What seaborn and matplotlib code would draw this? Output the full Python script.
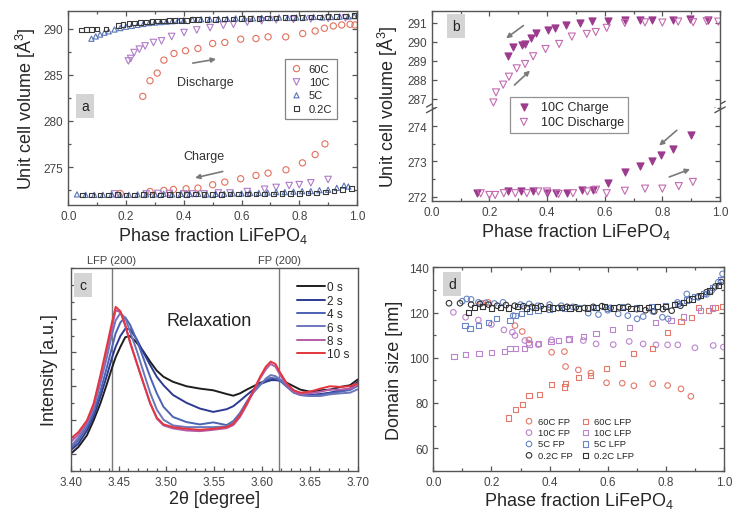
import numpy as np
import pandas as pd
import matplotlib
matplotlib.use("Agg")
import matplotlib.pyplot as plt
import seaborn as sns
from matplotlib.ticker import MultipleLocator, NullFormatter

# ---------------- data: panel a ----------------
a60_dis_x = [0.258,0.283,0.308,0.331,0.366,0.406,0.449,0.500,0.542,0.597,0.650,0.692,0.753,0.812,0.855,0.887,0.918,0.947,0.976,0.993]
a60_dis_y = [282.66,284.35,285.18,286.58,287.3,287.6,287.84,288.38,288.49,288.85,288.92,289.1,289.1,289.46,289.74,290.03,290.28,290.39,290.46,290.39]
a60_chg_x = [0.889,0.855,0.811,0.754,0.692,0.650,0.597,0.542,0.500,0.449,0.408,0.364,0.331,0.283,0.18]
a60_chg_y = [277.51,276.36,275.46,274.71,274.35,274.1,273.74,273.38,273.09,272.73,272.66,272.58,272.48,272.36,272.15]
a10_dis_x = [0.208,0.216,0.228,0.246,0.266,0.295,0.323,0.358,0.401,0.445,0.491,0.537,0.572,0.62,0.67,0.72,0.78,0.84,0.90,0.96]
a10_dis_y = [286.5,286.76,287.4,287.77,288.12,288.49,288.67,289.14,289.57,289.85,290.1,290.36,290.46,290.7,290.85,290.95,291.0,291.05,291.1,291.15]
a10_chg_x = [0.16,0.27,0.31,0.35,0.40,0.43,0.47,0.52,0.56,0.62,0.68,0.72,0.765,0.80,0.84,0.90]
a10_chg_y = [272.1,272.1,272.15,272.15,272.1,272.1,272.1,272.2,272.2,272.35,272.6,272.8,273.0,273.1,273.3,273.66]
a5_dis_x = [0.08,0.095,0.11,0.125,0.14,0.16,0.18,0.20,0.22,0.24,0.26,0.28,0.30,0.32,0.34,0.36,0.38,0.40,0.43,0.46,0.49,0.52,0.55,0.58,0.61,0.64,0.67,0.70,0.73,0.76,0.79,0.82,0.85,0.88,0.91,0.94,0.97,0.99]
a5_dis_y = [288.9,289.15,289.35,289.55,289.7,289.9,290.05,290.2,290.3,290.4,290.5,290.6,290.65,290.7,290.75,290.8,290.85,290.9,290.95,291.0,291.0,291.05,291.05,291.1,291.1,291.1,291.15,291.15,291.2,291.15,291.2,291.2,291.25,291.2,291.25,291.3,291.3,291.35]
a02_dis_x = [0.046,0.064,0.081,0.099,0.131,0.173,0.19,0.21,0.23,0.25,0.27,0.29,0.31,0.33,0.35,0.37,0.39,0.41,0.43,0.45,0.48,0.51,0.54,0.57,0.60,0.63,0.66,0.69,0.72,0.75,0.78,0.81,0.84,0.87,0.90,0.93,0.96,0.99]
a02_dis_y = [289.85,289.9,289.9,289.95,289.95,290.35,290.45,290.55,290.6,290.65,290.7,290.75,290.8,290.8,290.85,290.85,290.9,290.9,290.95,290.95,291.0,291.0,291.05,291.05,291.1,291.1,291.1,291.15,291.15,291.2,291.2,291.2,291.25,291.25,291.3,291.3,291.35,291.4]
a5_chg_x = [0.03,0.06,0.09,0.12,0.15,0.18,0.21,0.24,0.27,0.30,0.33,0.36,0.39,0.42,0.45,0.48,0.51,0.54,0.57,0.60,0.63,0.66,0.69,0.72,0.75,0.78,0.81,0.84,0.87,0.90,0.93,0.955,0.97]
a5_chg_y = [272.05,272.0,272.0,272.0,272.05,272.0,272.0,272.05,272.05,272.05,272.1,272.05,272.1,272.1,272.1,272.05,272.1,272.1,272.15,272.15,272.2,272.2,272.25,272.3,272.3,272.35,272.4,272.4,272.5,272.55,272.75,273.0,272.9]
a02_chg_x = [0.05,0.08,0.11,0.14,0.17,0.20,0.23,0.26,0.29,0.32,0.35,0.38,0.41,0.44,0.47,0.50,0.53,0.56,0.59,0.62,0.65,0.68,0.71,0.74,0.77,0.80,0.83,0.86,0.89,0.92,0.95,0.98]
a02_chg_y = [272.0,272.0,272.0,272.0,272.05,272.0,272.0,272.05,272.05,272.0,272.05,272.05,272.05,272.1,272.05,272.05,272.05,272.1,272.1,272.1,272.1,272.1,272.1,272.15,272.15,272.15,272.2,272.2,272.3,272.4,272.55,272.7]

# ---------------- data: panel b ----------------
b_chg_up_x = [0.266,0.283,0.312,0.324,0.344,0.362,0.402,0.428,0.465,0.514,0.555,0.613,0.670,0.722,0.763,0.838,0.896,0.959]
b_chg_up_y = [289.27,289.75,289.85,289.89,290.2,290.47,290.63,290.72,290.91,291.0,291.09,291.12,291.17,291.17,291.16,291.16,291.19,291.17]
b_dis_up_x = [0.214,0.223,0.248,0.268,0.295,0.324,0.352,0.395,0.442,0.486,0.538,0.569,0.607,0.670,0.740,0.800,0.855,0.907,0.954,0.994]
b_dis_up_y = [286.8,287.33,287.74,288.16,288.6,288.83,289.24,289.62,289.89,290.28,290.42,290.52,290.74,291.0,291.03,291.02,291.07,291.04,291.09,291.07]
b_chg_lo_x = [0.156,0.266,0.31,0.35,0.40,0.43,0.47,0.52,0.56,0.613,0.670,0.722,0.763,0.797,0.838,0.898]
b_chg_lo_y = [272.11,272.15,272.15,272.15,272.1,272.1,272.1,272.2,272.2,272.39,272.7,272.87,273.0,273.17,273.34,273.74]
b_dis_lo_x = [0.17,0.20,0.22,0.25,0.29,0.33,0.37,0.40,0.44,0.49,0.54,0.57,0.607,0.67,0.74,0.80,0.857,0.906]
b_dis_lo_y = [272.1,272.05,272.05,272.1,272.1,272.1,272.15,272.15,272.08,272.1,272.15,272.2,272.1,272.17,272.23,272.23,272.3,272.42]

# ---------------- data: panel c ----------------
c_theta = [3.400,3.408,3.417,3.424,3.431,3.438,3.443,3.447,3.452,3.457,3.462,3.469,3.476,3.483,3.490,3.497,3.507,3.521,3.535,3.549,3.563,3.570,3.577,3.584,3.591,3.598,3.604,3.609,3.614,3.619,3.626,3.633,3.640,3.650,3.661,3.671,3.682,3.692,3.700]
c_labels = ["0 s", "2 s", "4 s", "6 s", "8 s", "10 s"]
c_0s = [0.0,0.20,0.55,0.99,1.49,2.08,2.53,2.86,3.17,3.45,3.49,3.29,3.03,2.73,2.46,2.28,2.13,2.00,1.93,1.88,1.77,1.72,1.79,1.90,2.00,2.10,2.16,2.18,2.20,2.18,2.10,2.00,1.90,1.84,1.88,1.90,1.98,2.03,2.20]
c_2s = [0.10,0.30,0.69,1.11,1.69,2.33,2.83,3.17,3.49,3.70,3.69,3.39,3.00,2.63,2.28,2.03,1.74,1.51,1.34,1.24,1.32,1.41,1.57,1.74,1.90,2.06,2.13,2.18,2.18,2.16,2.03,1.88,1.79,1.74,1.77,1.81,1.88,1.93,2.13]
c_4s = [0.15,0.40,0.79,1.22,1.84,2.58,3.13,3.57,3.89,4.04,3.82,3.37,2.83,2.28,1.79,1.39,1.09,0.94,0.87,0.93,0.85,0.97,1.21,1.54,1.84,2.06,2.18,2.25,2.23,2.16,1.98,1.81,1.74,1.72,1.74,1.79,1.84,1.89,2.01]
c_6s = [0.22,0.48,0.87,1.34,2.08,2.88,3.52,3.95,4.17,4.02,3.62,3.06,2.43,1.81,1.31,1.01,0.84,0.79,0.79,0.79,0.81,0.94,1.19,1.51,1.81,2.03,2.23,2.33,2.30,2.20,2.03,1.84,1.74,1.71,1.71,1.76,1.79,1.81,1.91]
c_8s = [0.35,0.57,0.94,1.44,2.23,3.10,3.72,4.25,4.19,3.79,3.29,2.68,2.08,1.49,1.04,0.84,0.75,0.69,0.67,0.71,0.76,0.85,1.09,1.44,1.84,2.23,2.50,2.66,2.58,2.33,2.03,1.84,1.77,1.79,1.84,1.90,1.90,1.93,2.03]
c_10s = [0.45,0.64,0.99,1.49,2.32,3.22,3.87,4.35,4.22,3.82,3.32,2.70,2.10,1.51,1.07,0.87,0.79,0.74,0.71,0.74,0.79,0.89,1.14,1.49,1.88,2.28,2.58,2.73,2.66,2.40,2.08,1.88,1.81,1.84,1.93,2.00,1.98,2.00,2.08]
c_peaks_x = [3.443, 3.618]
c_peaks_lab = ["LFP (200)", "FP (200)"]

# ---------------- data: panel d ----------------
d60_fp_x = [0.166,0.189,0.281,0.306,0.329,0.407,0.451,0.455,0.499,0.542,0.596,0.650,0.690,0.755,0.806,0.852,0.886]
d60_fp_y = [124.1,124.5,114.2,111.6,107.9,102.4,102.7,96.1,94.6,93.2,88.9,88.7,87.6,88.5,87.7,86.2,82.9]
d60_lfp_x = [0.258,0.283,0.306,0.329,0.365,0.407,0.450,0.455,0.499,0.542,0.596,0.650,0.690,0.753,0.806,0.852,0.889,0.912,0.946,0.969,0.995]
d60_lfp_y = [73.3,77.0,79.2,83.3,83.6,88.0,87.0,88.5,91.4,92.1,95.1,97.6,102.0,103.9,111.3,116.1,117.9,122.3,120.9,122.3,122.8]
d10_fp_x = [0.069,0.111,0.155,0.20,0.243,0.272,0.281,0.315,0.329,0.361,0.407,0.467,0.516,0.560,0.619,0.674,0.722,0.766,0.806,0.841,0.900,0.963,0.998]
d10_fp_y = [120.1,117.9,116.7,114.7,112.3,111.3,109.8,107.6,106.4,105.8,107.9,107.9,107.6,106.1,105.8,107.2,106.1,105.7,105.7,105.7,104.4,105.4,104.7]
d10_lfp_x = [0.071,0.111,0.157,0.201,0.244,0.264,0.283,0.313,0.329,0.361,0.405,0.430,0.467,0.516,0.560,0.617,0.674,0.763,0.818,0.86,0.92,0.96]
d10_lfp_y = [100.7,101.4,102.0,102.4,102.9,103.9,104.2,104.2,106.1,106.4,107.3,107.6,108.3,109.4,110.8,112.6,113.5,115.7,116.4,118.0,121.0,122.0]
d5_fp_x = [0.10,0.115,0.13,0.155,0.18,0.21,0.24,0.275,0.30,0.33,0.36,0.40,0.44,0.48,0.533,0.568,0.60,0.636,0.669,0.701,0.722,0.755,0.788,0.808,0.84,0.872,0.912,0.94,0.958,0.98,0.995]
d5_fp_y = [125.0,126.0,125.8,124.5,124.3,124.0,124.5,118.6,123.5,123.8,123.0,123.5,123.0,122.5,119.7,119.1,121.0,119.4,118.6,117.2,118.2,120.5,117.9,117.2,124.5,128.2,126.7,128.0,129.7,133.4,137.1]
d5_lfp_x = [0.109,0.126,0.155,0.189,0.218,0.264,0.281,0.304,0.33,0.36,0.40,0.45,0.50,0.55,0.60,0.65,0.70,0.75,0.80,0.84,0.87,0.90,0.93,0.96,0.99]
d5_lfp_y = [114.2,113.0,114.2,115.7,117.2,116.4,118.6,119.7,120.3,120.9,121.5,121.8,122.0,122.3,122.0,122.5,122.0,122.8,123.0,124.0,125.5,127.0,128.5,131.0,134.5]
d02_fp_x = [0.054,0.092,0.13,0.16,0.19,0.22,0.25,0.28,0.31,0.34,0.37,0.40,0.43,0.46,0.49,0.52,0.55,0.58,0.61,0.64,0.67,0.70,0.73,0.76,0.79,0.82,0.85,0.88,0.91,0.94,0.97,0.99]
d02_fp_y = [124.1,124.1,123.5,123.8,123.5,123.0,123.3,123.0,122.8,122.5,122.8,122.3,122.0,122.5,122.3,122.0,122.5,122.8,122.0,122.3,122.5,121.5,121.0,120.5,121.5,120.8,123.0,125.5,127.0,129.0,131.5,133.5]
d02_lfp_x = [0.12,0.143,0.17,0.20,0.23,0.26,0.29,0.32,0.35,0.38,0.41,0.44,0.47,0.50,0.53,0.56,0.59,0.62,0.65,0.68,0.71,0.74,0.77,0.80,0.83,0.86,0.89,0.92,0.95,0.98]
d02_lfp_y = [120.0,122.3,122.5,122.0,122.3,122.0,122.8,122.0,122.3,121.8,122.0,122.3,122.0,121.8,122.0,122.3,122.5,122.0,122.3,121.8,122.0,122.3,122.5,122.8,123.5,124.5,126.0,127.5,129.5,132.0]

# ---------------- style ----------------
sns.set_style("ticks")
plt.rcParams["font.family"] = ["Liberation Sans", "DejaVu Sans"]
plt.rcParams["mathtext.default"] = "regular"
plt.rcParams["axes.edgecolor"] = "#555555"
plt.rcParams["axes.linewidth"] = 1.0
plt.rcParams["xtick.color"] = "#555555"
plt.rcParams["ytick.color"] = "#555555"
plt.rcParams["xtick.labelcolor"] = "#444444"
plt.rcParams["ytick.labelcolor"] = "#444444"

C60 = "#e2705c"
C10 = "#b07cc8"
C5 = "#5874b6"
C02 = "#3a3a3a"
GRAY = "#7a7a7a"
LBL = 13
TCK = 8.5

fig = plt.figure(figsize=(7.32, 5.10), dpi=100)
W, H = 732.0, 510.0

def add_ax(l, t, r, b):
    return fig.add_axes([l / W, 1 - b / H, (r - l) / W, (b - t) / H])

def style_ticks(ax, right=True, top=True):
    ax.tick_params(which="both", direction="in", top=top, right=right, labelsize=TCK, width=0.9)
    ax.tick_params(which="major", length=3.5)
    ax.tick_params(which="minor", length=2)

def pts(ax, x, y, marker, color, s=18, filled=False, lw=0.8, label=None):
    sns.scatterplot(x=x, y=y, marker=marker, s=s, color=color,
                    facecolor=color if filled else "none", edgecolor=color,
                    linewidth=lw, ax=ax, label=label, legend=False, zorder=3)

def panel_tag(ax, x, y, t):
    ax.text(x, y, t, transform=ax.transAxes, ha="center", va="center", fontsize=10,
            color="#222222", zorder=6,
            bbox=dict(boxstyle="square,pad=0.38", fc="#d4d4d4", ec="none"))

def arrow(ax, start, end):
    ax.annotate("", xy=end, xytext=start,
                arrowprops=dict(arrowstyle="-|>", color=GRAY, lw=1.2, mutation_scale=7,
                                shrinkA=0, shrinkB=0))

# ---------------- panel a ----------------
ax = add_ax(68.3, 12, 357, 206)
pts(ax, a60_dis_x, a60_dis_y, "o", C60, s=20, label="60C")
pts(ax, a10_dis_x, a10_dis_y, "v", C10, s=22, label="10C")
pts(ax, a5_dis_x, a5_dis_y, "^", C5, s=14, label="5C")
pts(ax, a02_dis_x, a02_dis_y, "s", C02, s=11, label="0.2C")
pts(ax, a60_chg_x, a60_chg_y, "o", C60, s=20)
pts(ax, a10_chg_x, a10_chg_y, "v", C10, s=22)
pts(ax, a5_chg_x, a5_chg_y, "^", C5, s=14)
pts(ax, a02_chg_x, a02_chg_y, "s", C02, s=11)
ax.set_xlim(0, 1)
ax.set_ylim(270.9, 291.9)
ax.xaxis.set_major_locator(MultipleLocator(0.2))
ax.xaxis.set_minor_locator(MultipleLocator(0.1))
ax.yaxis.set_major_locator(MultipleLocator(5))
ax.yaxis.set_minor_locator(MultipleLocator(2.5))
ax.xaxis.set_major_formatter(matplotlib.ticker.FormatStrFormatter("%.1f"))
style_ticks(ax)
ax.set_xlabel("Phase fraction LiFePO$_4$", fontsize=LBL, labelpad=2)
ax.set_ylabel("Unit cell volume [Å$^3$]", fontsize=LBL, labelpad=4)
ax.text(0.473, 284.2, "Discharge", ha="center", va="center", fontsize=9, color="#333333")
ax.text(0.47, 276.25, "Charge", ha="center", va="center", fontsize=9, color="#333333")
arrow(ax, (0.431, 286.26), (0.512, 286.69))
arrow(ax, (0.535, 274.53), (0.439, 273.84))
panel_tag(ax, 0.058, 0.51, "a")
h, l = ax.get_legend_handles_labels()
leg = ax.legend(h[:4], l[:4], loc="upper left", bbox_to_anchor=(0.75, 0.755), fontsize=8,
                frameon=True, fancybox=False, edgecolor="#666666", handletextpad=0.5,
                labelspacing=0.3, borderpad=0.45, handlelength=1.2, borderaxespad=0)
leg.get_frame().set_linewidth(0.9)

# ---------------- panel b (broken axis) ----------------
axl = add_ax(431.7, 108, 720, 202)
axu = add_ax(431.7, 12, 720, 108)
CB_F = "#9c3a8e"
CB_O = "#c46bb0"
pts(axu, b_chg_up_x, b_chg_up_y, "v", CB_F, s=26, filled=True, label="10C Charge")
pts(axu, b_dis_up_x, b_dis_up_y, "v", CB_O, s=26, label="10C Discharge")
pts(axl, b_chg_lo_x, b_chg_lo_y, "v", CB_F, s=26, filled=True)
pts(axl, b_dis_lo_x, b_dis_lo_y, "v", CB_O, s=26)
for a_ in (axu, axl):
    a_.set_xlim(0, 1)
    a_.xaxis.set_major_locator(MultipleLocator(0.2))
    a_.xaxis.set_minor_locator(MultipleLocator(0.1))
    a_.xaxis.set_major_formatter(matplotlib.ticker.FormatStrFormatter("%.1f"))
axu.set_ylim(286.56, 291.63)
axu.yaxis.set_major_locator(MultipleLocator(1))
axl.set_ylim(271.88, 274.54)
axl.yaxis.set_major_locator(MultipleLocator(1))
axl.yaxis.set_minor_locator(MultipleLocator(0.5))
style_ticks(axu)
style_ticks(axl)
axu.tick_params(which="both", bottom=False, labelbottom=False)
axl.tick_params(which="both", top=False)
axu.spines["bottom"].set_visible(False)
axl.spines["top"].set_visible(False)
axl.set_xlabel("Phase fraction LiFePO$_4$", fontsize=LBL, labelpad=2)
fig.text(388 / W, 1 - 107 / H, "Unit cell volume [Å$^3$]", rotation=90, ha="center",
         va="center", fontsize=LBL)
for xx in (0.0, 1.0):
    for off in (-0.03, 0.03):
        axl.plot([xx - 0.018, xx + 0.018], [1.0 + off - 0.03, 1.0 + off + 0.03],
                 transform=axl.transAxes, color="#555555", lw=1.0, clip_on=False, zorder=5)
arrow(axu, (0.318, 290.86), (0.258, 290.19))
arrow(axu, (0.287, 287.72), (0.341, 288.48))
arrow(axl, (0.85, 273.88), (0.789, 273.45))
arrow(axl, (0.824, 272.56), (0.896, 272.78))
panel_tag(axu, 0.084, 0.844, "b")
h, l = axu.get_legend_handles_labels()
legb = axu.legend(h, l, loc="upper left", bbox_to_anchor=(0.272, 0.107), fontsize=9,
                  frameon=True, fancybox=False, edgecolor="#777777", handletextpad=0.6,
                  labelspacing=0.25, borderpad=0.35, handlelength=1.5, borderaxespad=0)
legb.get_frame().set_linewidth(0.9)
legb.set_zorder(10)

# ---------------- panel c ----------------
axc = add_ax(70.7, 269, 357.7, 471.7)
c_series = [c_0s, c_2s, c_4s, c_6s, c_8s, c_10s]
c_colors = ["#1e1e1e", "#2c3a92", "#4c62b2", "#6c76ba", "#b45ca8", "#e3363f"]
for lab, ys, col in zip(c_labels, c_series, c_colors):
    sns.lineplot(x=c_theta, y=ys, color=col, lw=1.4, ax=axc, label=lab, sort=False)
for px, pl in zip(c_peaks_x, c_peaks_lab):
    axc.axvline(px, color=GRAY, lw=1.0, zorder=0)
    axc.text(px, 1.015, pl, transform=axc.get_xaxis_transform(), ha="center", va="bottom",
             fontsize=8, color="#444444")
axc.set_xlim(3.40, 3.70)
axc.set_ylim(-0.5, 5.5)
axc.xaxis.set_major_locator(MultipleLocator(0.05))
axc.xaxis.set_minor_locator(MultipleLocator(0.01))
axc.xaxis.set_major_formatter(matplotlib.ticker.FormatStrFormatter("%.2f"))
axc.yaxis.set_major_locator(MultipleLocator(1))
axc.yaxis.set_minor_locator(MultipleLocator(0.5))
axc.yaxis.set_major_formatter(NullFormatter())
style_ticks(axc, right=False, top=False)
axc.set_xlabel("2θ [degree]", fontsize=LBL, labelpad=2)
axc.set_ylabel("Intensity [a.u.]", fontsize=LBL, labelpad=6)
axc.text(3.545, 3.95, "Relaxation", ha="center", va="center", fontsize=13, color="#222222")
panel_tag(axc, 0.043, 0.916, "c")
legc = axc.legend(loc="upper right", bbox_to_anchor=(1.0, 0.975), fontsize=8.5, frameon=False,
                  handlelength=2.4, handletextpad=0.15, labelspacing=0.12, borderaxespad=0.3)

# ---------------- panel d ----------------
axd = add_ax(433.3, 268.3, 724, 471.7)
D60, D10, D5, D02 = "#e4786a", "#bb85cc", "#6a86c4", "#333333"
pts(axd, d60_fp_x, d60_fp_y, "o", D60, s=16, label="60C FP")
pts(axd, d10_fp_x, d10_fp_y, "o", D10, s=16, label="10C FP")
pts(axd, d5_fp_x, d5_fp_y, "o", D5, s=16, label="5C FP")
pts(axd, d02_fp_x, d02_fp_y, "o", D02, s=16, label="0.2C FP")
pts(axd, d60_lfp_x, d60_lfp_y, "s", D60, s=14, label="60C LFP")
pts(axd, d10_lfp_x, d10_lfp_y, "s", D10, s=14, label="10C LFP")
pts(axd, d5_lfp_x, d5_lfp_y, "s", D5, s=14, label="5C LFP")
pts(axd, d02_lfp_x, d02_lfp_y, "s", D02, s=14, label="0.2C LFP")
axd.set_xlim(0, 1)
axd.set_ylim(50, 140)
axd.xaxis.set_major_locator(MultipleLocator(0.2))
axd.xaxis.set_minor_locator(MultipleLocator(0.1))
axd.xaxis.set_major_formatter(matplotlib.ticker.FormatStrFormatter("%.1f"))
axd.yaxis.set_major_locator(MultipleLocator(20))
axd.yaxis.set_minor_locator(MultipleLocator(10))
style_ticks(axd)
axd.set_xlabel("Phase fraction LiFePO$_4$", fontsize=LBL, labelpad=2)
axd.set_ylabel("Domain size [nm]", fontsize=LBL, labelpad=4)
panel_tag(axd, 0.064, 0.918, "d")
h, l = axd.get_legend_handles_labels()
legd = axd.legend(h, l, ncol=2, loc="lower left", bbox_to_anchor=(0.30, 0.035), fontsize=6.8,
                  frameon=False, handletextpad=0.4, columnspacing=0.9, labelspacing=0.25,
                  handlelength=1.0, borderaxespad=0)

fig.savefig("out.png", dpi=100)
